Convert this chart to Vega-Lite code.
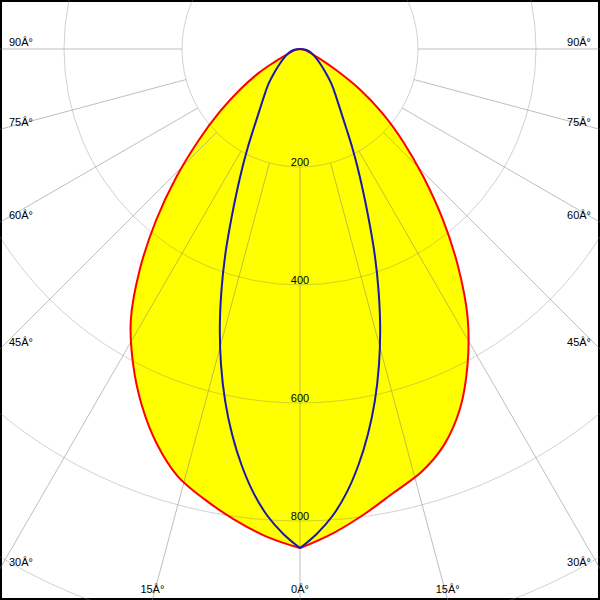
{
  "$schema": "https://vega.github.io/schema/vega-lite/v6.json",
  "width": 600,
  "height": 600,
  "padding": 0,
  "autosize": "none",
  "background": "white",
  "config": {
    "view": {"stroke": "black", "strokeWidth": 4},
    "text": {"font": "Liberation Sans", "fontSize": 11, "color": "black"}
  },
  "datasets": {
    "curves": [
      {"plane": "C0-C180", "half": "L", "angle": -90, "cd": 0},
      {"plane": "C0-C180", "half": "L", "angle": -85, "cd": 3},
      {"plane": "C0-C180", "half": "L", "angle": -80, "cd": 6},
      {"plane": "C0-C180", "half": "L", "angle": -75, "cd": 11},
      {"plane": "C0-C180", "half": "L", "angle": -70, "cd": 18},
      {"plane": "C0-C180", "half": "L", "angle": -66, "cd": 29},
      {"plane": "C0-C180", "half": "L", "angle": -63, "cd": 48},
      {"plane": "C0-C180", "half": "L", "angle": -60, "cd": 80},
      {"plane": "C0-C180", "half": "L", "angle": -56, "cd": 122},
      {"plane": "C0-C180", "half": "L", "angle": -52, "cd": 172},
      {"plane": "C0-C180", "half": "L", "angle": -48, "cd": 231},
      {"plane": "C0-C180", "half": "L", "angle": -44, "cd": 302},
      {"plane": "C0-C180", "half": "L", "angle": -40, "cd": 380},
      {"plane": "C0-C180", "half": "L", "angle": -36, "cd": 462},
      {"plane": "C0-C180", "half": "L", "angle": -32, "cd": 541},
      {"plane": "C0-C180", "half": "L", "angle": -28, "cd": 603},
      {"plane": "C0-C180", "half": "L", "angle": -24, "cd": 660},
      {"plane": "C0-C180", "half": "L", "angle": -20, "cd": 711},
      {"plane": "C0-C180", "half": "L", "angle": -16, "cd": 753},
      {"plane": "C0-C180", "half": "L", "angle": -12, "cd": 780},
      {"plane": "C0-C180", "half": "L", "angle": -8, "cd": 805},
      {"plane": "C0-C180", "half": "L", "angle": -4, "cd": 828},
      {"plane": "C0-C180", "half": "L", "angle": 0, "cd": 846},
      {"plane": "C0-C180", "half": "R", "angle": 0, "cd": 846},
      {"plane": "C0-C180", "half": "R", "angle": 4, "cd": 822},
      {"plane": "C0-C180", "half": "R", "angle": 8, "cd": 795},
      {"plane": "C0-C180", "half": "R", "angle": 12, "cd": 768},
      {"plane": "C0-C180", "half": "R", "angle": 16, "cd": 746},
      {"plane": "C0-C180", "half": "R", "angle": 20, "cd": 714},
      {"plane": "C0-C180", "half": "R", "angle": 24, "cd": 667},
      {"plane": "C0-C180", "half": "R", "angle": 28, "cd": 605},
      {"plane": "C0-C180", "half": "R", "angle": 32, "cd": 536},
      {"plane": "C0-C180", "half": "R", "angle": 36, "cd": 456},
      {"plane": "C0-C180", "half": "R", "angle": 40, "cd": 376},
      {"plane": "C0-C180", "half": "R", "angle": 44, "cd": 301},
      {"plane": "C0-C180", "half": "R", "angle": 48, "cd": 236},
      {"plane": "C0-C180", "half": "R", "angle": 52, "cd": 178},
      {"plane": "C0-C180", "half": "R", "angle": 56, "cd": 122},
      {"plane": "C0-C180", "half": "R", "angle": 60, "cd": 68},
      {"plane": "C0-C180", "half": "R", "angle": 63, "cd": 42},
      {"plane": "C0-C180", "half": "R", "angle": 66, "cd": 27},
      {"plane": "C0-C180", "half": "R", "angle": 70, "cd": 18},
      {"plane": "C0-C180", "half": "R", "angle": 75, "cd": 11},
      {"plane": "C0-C180", "half": "R", "angle": 80, "cd": 6},
      {"plane": "C0-C180", "half": "R", "angle": 85, "cd": 3},
      {"plane": "C0-C180", "half": "R", "angle": 90, "cd": 0},
      {"plane": "C90-C270", "half": "L", "angle": -90, "cd": 0},
      {"plane": "C90-C270", "half": "L", "angle": -85, "cd": 6},
      {"plane": "C90-C270", "half": "L", "angle": -80, "cd": 12},
      {"plane": "C90-C270", "half": "L", "angle": -70, "cd": 21},
      {"plane": "C90-C270", "half": "L", "angle": -60, "cd": 32},
      {"plane": "C90-C270", "half": "L", "angle": -54, "cd": 42},
      {"plane": "C90-C270", "half": "L", "angle": -48, "cd": 57},
      {"plane": "C90-C270", "half": "L", "angle": -42, "cd": 80},
      {"plane": "C90-C270", "half": "L", "angle": -37, "cd": 102},
      {"plane": "C90-C270", "half": "L", "angle": -33, "cd": 128},
      {"plane": "C90-C270", "half": "L", "angle": -30, "cd": 159},
      {"plane": "C90-C270", "half": "L", "angle": -28, "cd": 188},
      {"plane": "C90-C270", "half": "L", "angle": -26, "cd": 222},
      {"plane": "C90-C270", "half": "L", "angle": -24, "cd": 262},
      {"plane": "C90-C270", "half": "L", "angle": -22, "cd": 311},
      {"plane": "C90-C270", "half": "L", "angle": -20, "cd": 370},
      {"plane": "C90-C270", "half": "L", "angle": -18, "cd": 431},
      {"plane": "C90-C270", "half": "L", "angle": -16, "cd": 493},
      {"plane": "C90-C270", "half": "L", "angle": -14, "cd": 553},
      {"plane": "C90-C270", "half": "L", "angle": -12, "cd": 610},
      {"plane": "C90-C270", "half": "L", "angle": -10, "cd": 663},
      {"plane": "C90-C270", "half": "L", "angle": -8, "cd": 712},
      {"plane": "C90-C270", "half": "L", "angle": -6, "cd": 756},
      {"plane": "C90-C270", "half": "L", "angle": -4, "cd": 793},
      {"plane": "C90-C270", "half": "L", "angle": -2, "cd": 822},
      {"plane": "C90-C270", "half": "L", "angle": 0, "cd": 846},
      {"plane": "C90-C270", "half": "R", "angle": 0, "cd": 846},
      {"plane": "C90-C270", "half": "R", "angle": 2, "cd": 822},
      {"plane": "C90-C270", "half": "R", "angle": 4, "cd": 793},
      {"plane": "C90-C270", "half": "R", "angle": 6, "cd": 756},
      {"plane": "C90-C270", "half": "R", "angle": 8, "cd": 712},
      {"plane": "C90-C270", "half": "R", "angle": 10, "cd": 663},
      {"plane": "C90-C270", "half": "R", "angle": 12, "cd": 610},
      {"plane": "C90-C270", "half": "R", "angle": 14, "cd": 553},
      {"plane": "C90-C270", "half": "R", "angle": 16, "cd": 493},
      {"plane": "C90-C270", "half": "R", "angle": 18, "cd": 431},
      {"plane": "C90-C270", "half": "R", "angle": 20, "cd": 370},
      {"plane": "C90-C270", "half": "R", "angle": 22, "cd": 311},
      {"plane": "C90-C270", "half": "R", "angle": 24, "cd": 262},
      {"plane": "C90-C270", "half": "R", "angle": 26, "cd": 222},
      {"plane": "C90-C270", "half": "R", "angle": 28, "cd": 188},
      {"plane": "C90-C270", "half": "R", "angle": 30, "cd": 159},
      {"plane": "C90-C270", "half": "R", "angle": 33, "cd": 128},
      {"plane": "C90-C270", "half": "R", "angle": 37, "cd": 102},
      {"plane": "C90-C270", "half": "R", "angle": 42, "cd": 80},
      {"plane": "C90-C270", "half": "R", "angle": 48, "cd": 57},
      {"plane": "C90-C270", "half": "R", "angle": 54, "cd": 42},
      {"plane": "C90-C270", "half": "R", "angle": 60, "cd": 32},
      {"plane": "C90-C270", "half": "R", "angle": 70, "cd": 21},
      {"plane": "C90-C270", "half": "R", "angle": 80, "cd": 12},
      {"plane": "C90-C270", "half": "R", "angle": 85, "cd": 6},
      {"plane": "C90-C270", "half": "R", "angle": 90, "cd": 0}
    ],
    "rings": [{"cd": 200}, {"cd": 400}, {"cd": 600}, {"cd": 800}, {"cd": 1000}],
    "spokes": [
      {"angle": -90}, {"angle": -75}, {"angle": -60}, {"angle": -45}, {"angle": -30}, {"angle": -15},
      {"angle": 0}, {"angle": 15}, {"angle": 30}, {"angle": 45}, {"angle": 60}, {"angle": 75}, {"angle": 90}
    ],
    "ringLabels": [{"cd": 200}, {"cd": 400}, {"cd": 600}, {"cd": 800}],
    "sideLabels": [
      {"angle": 90, "side": -1, "label": "90Â°"},
      {"angle": 75, "side": -1, "label": "75Â°"},
      {"angle": 60, "side": -1, "label": "60Â°"},
      {"angle": 45, "side": -1, "label": "45Â°"},
      {"angle": 30, "side": -1, "label": "30Â°"},
      {"angle": 90, "side": 1, "label": "90Â°"},
      {"angle": 75, "side": 1, "label": "75Â°"},
      {"angle": 60, "side": 1, "label": "60Â°"},
      {"angle": 45, "side": 1, "label": "45Â°"},
      {"angle": 30, "side": 1, "label": "30Â°"}
    ],
    "bottomLabels": [
      {"angle": -15, "label": "15Â°"},
      {"angle": 0, "label": "0Â°"},
      {"angle": 15, "label": "15Â°"}
    ]
  },
  "encoding": {
    "x": {"field": "px", "type": "quantitative", "scale": {"domain": [-508.4746, 508.4746], "nice": false, "zero": false}, "axis": null},
    "y": {"field": "py", "type": "quantitative", "scale": {"domain": [-933.898, 83.0508], "nice": false, "zero": false}, "axis": null}
  },
  "layer": [
    {
      "data": {"name": "curves"},
      "transform": [
        {"filter": "datum.plane === 'C0-C180'"},
        {"calculate": "datum.cd * sin(datum.angle * PI / 180)", "as": "px"},
        {"calculate": "-datum.cd * cos(datum.angle * PI / 180)", "as": "py"}
      ],
      "mark": {"type": "line", "fill": "#ffff00", "strokeWidth": 0, "strokeOpacity": 0, "interpolate": "catmull-rom"},
      "encoding": {
        "order": {"field": "angle", "type": "quantitative"},
        "detail": {"field": "half", "type": "nominal"}
      }
    },
    {
      "data": {"name": "rings"},
      "transform": [
        {"calculate": "0", "as": "px"},
        {"calculate": "0", "as": "py"}
      ],
      "mark": {"type": "point", "shape": "circle", "filled": false, "stroke": "#808080", "strokeOpacity": 0.5, "strokeWidth": 1, "clip": true},
      "encoding": {
        "size": {"field": "cd", "type": "quantitative", "scale": {"type": "pow", "exponent": 2, "domain": [0, 1000], "range": [0, 1392400]}, "legend": null}
      }
    },
    {
      "data": {"name": "spokes"},
      "transform": [
        {"calculate": "200 * sin(datum.angle * PI / 180)", "as": "px"},
        {"calculate": "-200 * cos(datum.angle * PI / 180)", "as": "py"},
        {"calculate": "1500 * sin(datum.angle * PI / 180)", "as": "px2"},
        {"calculate": "-1500 * cos(datum.angle * PI / 180)", "as": "py2"}
      ],
      "mark": {"type": "rule", "stroke": "#808080", "strokeOpacity": 0.5, "strokeWidth": 1, "clip": true},
      "encoding": {
        "x2": {"field": "px2"},
        "y2": {"field": "py2"}
      }
    },
    {
      "data": {"name": "curves"},
      "transform": [
        {"calculate": "datum.cd * sin(datum.angle * PI / 180)", "as": "px"},
        {"calculate": "-datum.cd * cos(datum.angle * PI / 180)", "as": "py"}
      ],
      "mark": {"type": "line", "strokeWidth": 2, "interpolate": "catmull-rom"},
      "encoding": {
        "order": {"field": "angle", "type": "quantitative"},
        "detail": {"field": "half", "type": "nominal"},
        "color": {"field": "plane", "type": "nominal", "scale": {"domain": ["C0-C180", "C90-C270"], "range": ["#ff0000", "#1a1aa8"]}, "legend": null}
      }
    },
    {
      "data": {"name": "ringLabels"},
      "transform": [
        {"calculate": "0", "as": "px"},
        {"calculate": "-datum.cd", "as": "py"}
      ],
      "mark": {"type": "text", "align": "center", "baseline": "alphabetic", "dy": -1},
      "encoding": {"text": {"field": "cd", "type": "quantitative"}}
    },
    {
      "data": {"name": "sideLabels"},
      "transform": [
        {"filter": "datum.side < 0"},
        {"calculate": "datum.side * 508.4746", "as": "px"},
        {"calculate": "-508.4746 * cos(datum.angle * PI / 180) / sin(datum.angle * PI / 180)", "as": "py"}
      ],
      "mark": {"type": "text", "align": "left", "baseline": "alphabetic", "dx": 9, "dy": -3},
      "encoding": {"text": {"field": "label", "type": "nominal"}}
    },
    {
      "data": {"name": "sideLabels"},
      "transform": [
        {"filter": "datum.side > 0"},
        {"calculate": "datum.side * 508.4746", "as": "px"},
        {"calculate": "-508.4746 * cos(datum.angle * PI / 180) / sin(datum.angle * PI / 180)", "as": "py"}
      ],
      "mark": {"type": "text", "align": "right", "baseline": "alphabetic", "dx": -9, "dy": -3},
      "encoding": {"text": {"field": "label", "type": "nominal"}}
    },
    {
      "data": {"name": "bottomLabels"},
      "transform": [
        {"calculate": "933.898 * tan(datum.angle * PI / 180)", "as": "px"},
        {"calculate": "-933.898", "as": "py"}
      ],
      "mark": {"type": "text", "align": "center", "baseline": "alphabetic", "dy": -7},
      "encoding": {"text": {"field": "label", "type": "nominal"}}
    }
  ]
}
